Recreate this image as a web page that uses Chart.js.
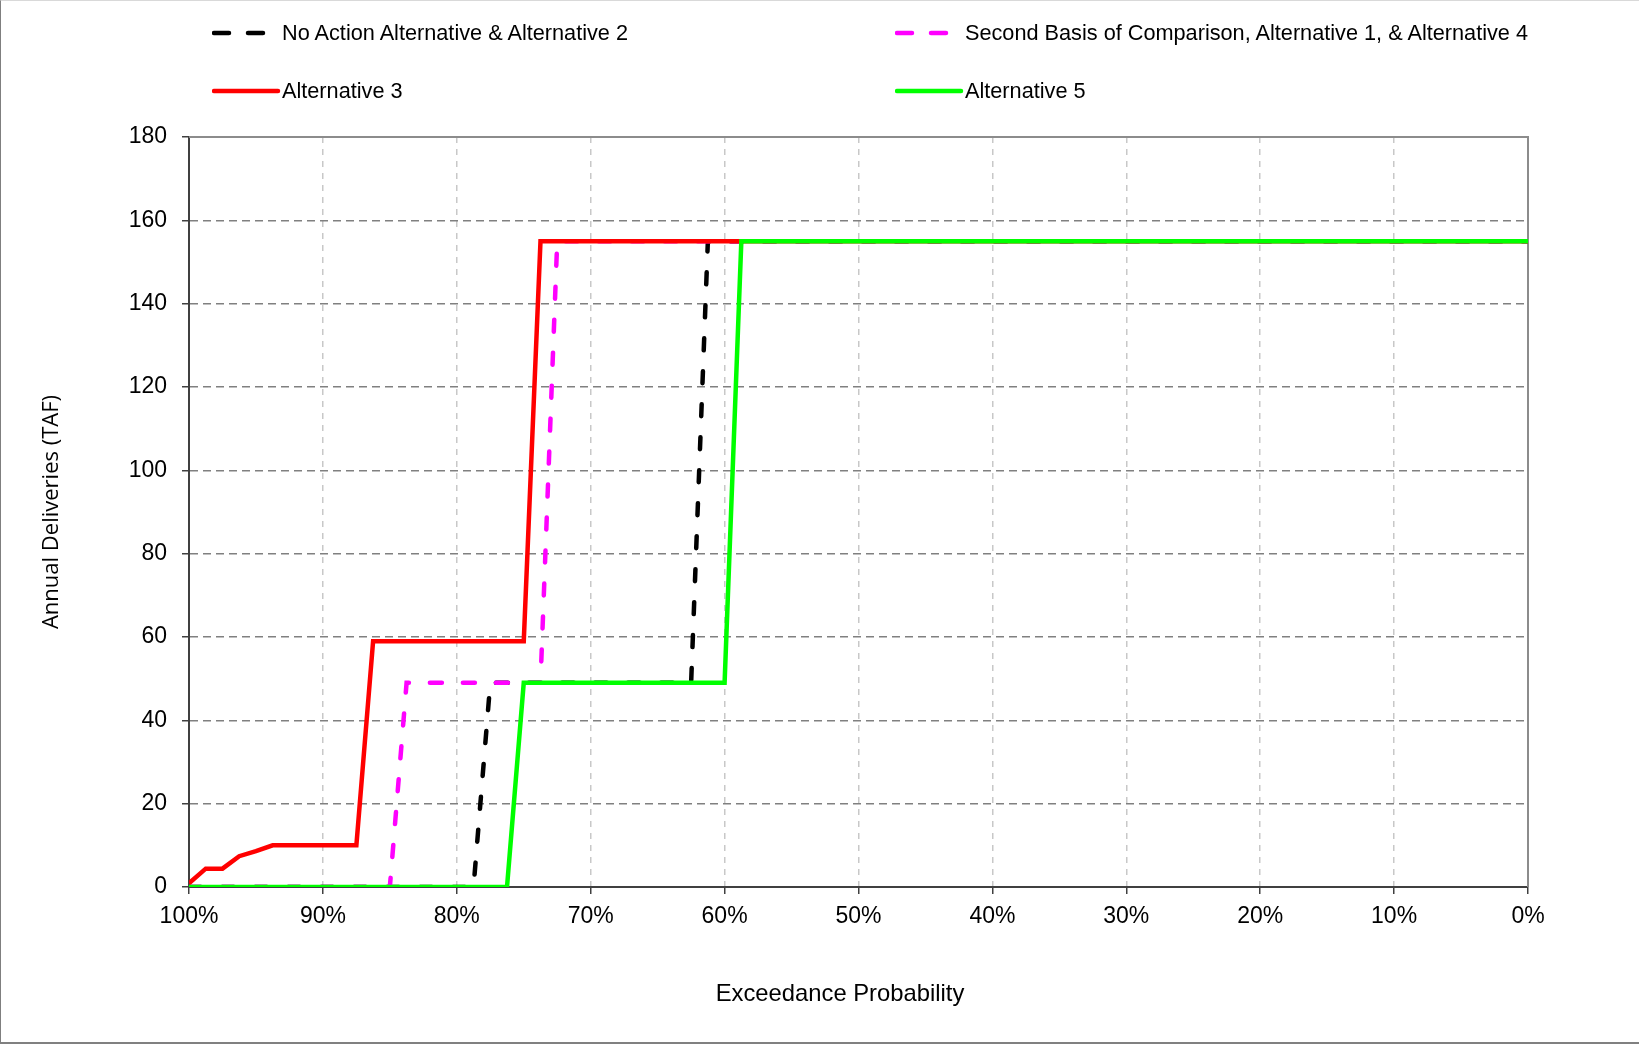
<!DOCTYPE html>
<html>
<head>
<meta charset="utf-8">
<script src="https://cdn.jsdelivr.net/npm/chart.js@4/dist/chart.umd.min.js"></script>
<style>
  body { margin: 0; background: #fff; font-family: "Liberation Sans", Arial, sans-serif; }
  #page { position: relative; width: 1639px; height: 1044px; overflow: hidden; }
  #frame { position: absolute; left: 0; top: 0; width: 1638px; height: 1041px;
           border-left: 1px solid #7f7f7f; border-top: 1px solid #d9d9d9; border-bottom: 2px solid #808080; pointer-events: none; }
  canvas { position: absolute; left: 0; top: 0; }
  .leg { position: absolute; font-size: 21.7px; color: #000; white-space: nowrap; line-height: 24px; }
  .leg svg { position: absolute; top: 7px; }
  #xTitle { position: absolute; top: 979px; left: 840px; transform: translateX(-50%);
            font-size: 23.8px; white-space: nowrap; }
</style>
</head>
<body>
<div id="page">
  <canvas id="deliveryChart" width="1639" height="1044"></canvas>
  <div id="legend"></div>
  <div id="xTitle">Exceedance Probability</div>
  <div id="frame"></div>
</div>
<script>
// Exceedance probability (%) breakpoints and annual deliveries (TAF) for each series
const noActionExceed = [100, 78.75, 77.5, 62.5, 61.25, 0];
const noActionValues = [0, 0, 49, 49, 155, 155];

const secondBasisExceed = [100, 85, 83.75, 73.75, 72.5, 0];
const secondBasisValues = [0, 0, 49, 49, 155, 155];

const alt3Exceed = [100, 98.75, 97.5, 96.25, 95, 93.75, 87.5, 86.25, 75, 73.75, 0];
const alt3Values = [0.9, 4.4, 4.4, 7.4, 8.6, 10, 10, 59, 59, 155, 155];

const alt5Exceed = [100, 76.25, 75, 60, 58.75, 0];
const alt5Values = [0, 0, 49, 49, 155, 155];

const yTicks = [0, 20, 40, 60, 80, 100, 120, 140, 160, 180];
const xTicks = [100, 90, 80, 70, 60, 50, 40, 30, 20, 10, 0];

const seriesList = [
    { label: 'No Action Alternative & Alternative 2', xs: noActionExceed, ys: noActionValues, color: '#000000', dashed: true },
    { label: 'Second Basis of Comparison, Alternative 1, & Alternative 4', xs: secondBasisExceed, ys: secondBasisValues, color: '#ff00ff', dashed: true },
    { label: 'Alternative 3', xs: alt3Exceed, ys: alt3Values, color: '#ff0000', dashed: false },
    { label: 'Alternative 5', xs: alt5Exceed, ys: alt5Values, color: '#00ff00', dashed: false }
];

// legend slots: two columns, two rows
const legendSlots = [
    { left: 212, top: 21, lineW: 51 },
    { left: 895, top: 21, lineW: 51 },
    { left: 212, top: 79, lineW: 64 },
    { left: 895, top: 79, lineW: 64 }
];
const legendBox = document.getElementById('legend');
seriesList.forEach((s, i) => {
    const slot = legendSlots[i];
    const item = document.createElement('div');
    item.className = 'leg';
    item.style.left = slot.left + 'px';
    item.style.top = slot.top + 'px';
    item.style.paddingLeft = '70px';
    const dash = s.dashed ? 'stroke-dasharray="15 19"' : '';
    item.innerHTML = `<svg width="70" height="10" style="left:0"><line x1="2" y1="5" x2="${slot.lineW + 2}" y2="5" stroke="${s.color}" stroke-width="4.5" stroke-linecap="round" ${dash}/></svg>` + s.label;
    legendBox.appendChild(item);
});

// frame on top and right edges of the plot area
const plotFrame = {
    id: 'plotFrame',
    beforeDatasetsDraw(chart) {
        const { ctx, chartArea: a } = chart;
        ctx.save();
        ctx.strokeStyle = '#8c8c8c';
        ctx.lineWidth = 2;
        ctx.beginPath();
        ctx.moveTo(a.left, a.top);
        ctx.lineTo(a.right, a.top);
        ctx.lineTo(a.right, a.bottom);
        ctx.stroke();
        ctx.restore();
    }
};

const ctx = document.getElementById('deliveryChart').getContext('2d');
new Chart(ctx, {
    type: 'line',
    data: {
        datasets: seriesList.map((s, i) => ({
            label: s.label,
            data: s.xs.map((x, k) => ({ x: x, y: s.ys[k] })),
            borderColor: s.color,
            backgroundColor: s.color,
            borderWidth: 4.5,
            borderDash: s.dashed ? [12, 21] : [],
            borderCapStyle: s.dashed ? 'round' : 'butt',
            borderJoinStyle: 'miter',
            pointRadius: 0,
            tension: 0,
            fill: false,
            order: 4 - i
        }))
    },
    options: {
        responsive: false,
        animation: false,
        layout: { padding: { left: 0, right: 111, top: 137, bottom: 0 } },
        plugins: {
            legend: { display: false },
            tooltip: { enabled: false }
        },
        scales: {
            x: {
                type: 'linear',
                reverse: true,
                min: 0,
                max: 100,
                afterBuildTicks: scale => { scale.ticks = xTicks.map(v => ({ value: v })); },
                afterFit: scale => { scale.height = 157; },
                ticks: {
                    color: '#000',
                    padding: 9,
                    maxRotation: 0,
                    font: { family: '"Liberation Sans", Arial, sans-serif', size: 23 },
                    callback: v => v + '%'
                },
                grid: {
                    color: c => (c.tick && (c.tick.value === 0 || c.tick.value === 100)) ? 'rgba(0,0,0,0)' : '#c8c8c8',
                    lineWidth: 1.5,
                    tickColor: '#404040',
                    tickLength: 7,
                    tickWidth: 1.5
                },
                border: { color: '#404040', width: 2, dash: [6, 6] }
            },
            y: {
                min: 0,
                max: 180,
                afterBuildTicks: scale => { scale.ticks = yTicks.map(v => ({ value: v })); },
                afterFit: scale => { scale.width = 189; },
                ticks: {
                    color: '#000',
                    padding: 15,
                    font: { family: '"Liberation Sans", Arial, sans-serif', size: 23 }
                },
                title: {
                    display: true,
                    text: 'Annual Deliveries (TAF)',
                    color: '#000',
                    padding: { top: 39 },
                    font: { family: '"Open Sans", sans-serif', size: 22 }
                },
                grid: {
                    color: c => (c.tick && (c.tick.value === 0 || c.tick.value === 180)) ? 'rgba(0,0,0,0)' : '#808080',
                    lineWidth: 1.5,
                    tickColor: '#404040',
                    tickLength: 7,
                    tickWidth: 1.5
                },
                border: { color: '#404040', width: 2, dash: [8, 5] }
            }
        }
    },
    plugins: [plotFrame]
});
</script>
</body>
</html>
